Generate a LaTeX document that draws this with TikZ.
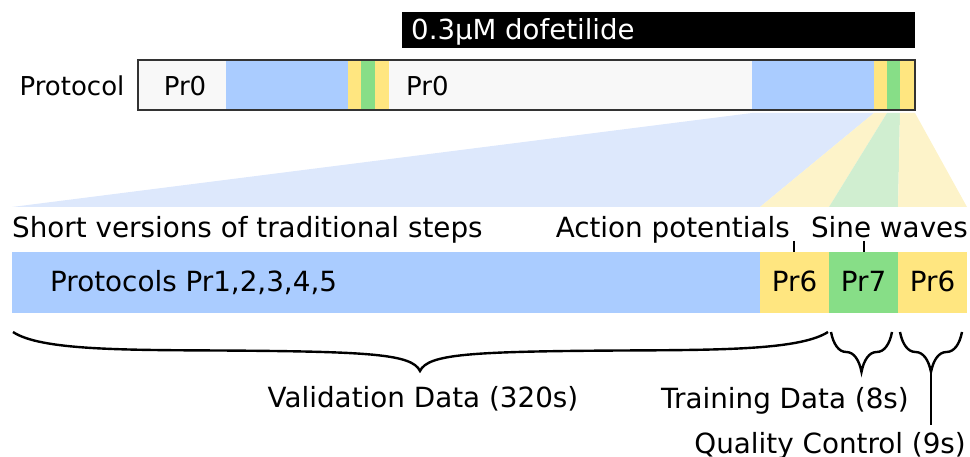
\documentclass[tikz,border=0pt]{standalone}
\usepackage{fontspec}
\setmainfont{DejaVu Sans}
\usetikzlibrary{decorations.pathreplacing}
\definecolor{pblue}{HTML}{AACCFF}
\definecolor{pyellow}{HTML}{FFE680}
\definecolor{pgreen}{HTML}{87DE87}
\definecolor{fblue}{HTML}{DDE8FC}
\definecolor{fyellow}{HTML}{FDF3C9}
\definecolor{fgreen}{HTML}{D0EED0}
\definecolor{pwhite}{HTML}{F8F8F8}
\definecolor{pborder}{HTML}{333333}
\tikzset{
  seg/.style={draw=none,inner sep=0,outer sep=0,anchor=north west},
  bigtxt/.style={inner sep=0,font=\fontsize{27.8}{32}\selectfont},
  toptxt/.style={inner sep=0,font=\fontsize{26}{30}\selectfont},
  brc/.style={line width=2.4pt,decorate,decoration={brace,mirror,amplitude=#1}},
  bline/.style={line width=2.4pt},
  tick/.style={line width=2pt},
}
\begin{document}
\begin{tikzpicture}[x=1pt,y=-1pt]
\useasboundingbox (0,0) rectangle (970,457);
% dofetilide box
\node[seg,fill=black,minimum width=513pt,minimum height=36pt] (dof) at (402,12) {};
\node[anchor=base west,inner sep=0,text=white,font=\fontsize{27.6}{30}\selectfont] (doft) at (411,40) {0.3μM dofetilide};
% top protocol bar
\node[toptxt,anchor=base] (prot) at (72,96) {Protocol};
\node[seg,fill=pwhite,minimum width=88pt,minimum height=50pt] (t1) at (138,60) {};
\node[seg,fill=pblue,minimum width=122pt,minimum height=50pt] (t2) at (226,60) {};
\node[seg,fill=pyellow,minimum width=13pt,minimum height=50pt] (t3) at (348,60) {};
\node[seg,fill=pgreen,minimum width=14pt,minimum height=50pt] (t4) at (361,60) {};
\node[seg,fill=pyellow,minimum width=14pt,minimum height=50pt] (t5) at (375,60) {};
\node[seg,fill=pwhite,minimum width=363pt,minimum height=50pt] (t6) at (389,60) {};
\node[seg,fill=pblue,minimum width=122pt,minimum height=50pt] (t7) at (752,60) {};
\node[seg,fill=pyellow,minimum width=13pt,minimum height=50pt] (t8) at (874,60) {};
\node[seg,fill=pgreen,minimum width=13pt,minimum height=50pt] (t9) at (887,60) {};
\node[seg,fill=pyellow,minimum width=15pt,minimum height=50pt] (t10) at (900,60) {};
\draw[pborder,line width=1.4pt] (t1.north west) rectangle (t10.south east);
\node[toptxt,anchor=base] (pr0a) at (185,96) {Pr0};
\node[toptxt,anchor=base west] (pr0b) at (406,96) {Pr0};
% fans
\fill[fblue] (12,207) -- (760,207) -- (874,113) -- (752,113) -- cycle;
\fill[fyellow] (760,207) -- (829,207) -- (887,113) -- (874,113) -- cycle;
\fill[fgreen] (829,207) -- (898,207) -- (900,113) -- (887,113) -- cycle;
\fill[fyellow] (898,207) -- (967,207) -- (915,113) -- (900,113) -- cycle;
% labels above bottom bar
\node[bigtxt,anchor=base west] (short) at (12,238) {Short versions of traditional steps};
\node[bigtxt,anchor=base east] (ap) at (790,238) {Action potentials};
\node[bigtxt,anchor=base east] (sw) at (968,238) {Sine waves};
% bottom bar
\node[seg,fill=pblue,minimum width=748pt,minimum height=61pt] (b1) at (12,252) {};
\node[seg,fill=pyellow,minimum width=69pt,minimum height=61pt] (b2) at (760,252) {};
\node[seg,fill=pgreen,minimum width=69pt,minimum height=61pt] (b3) at (829,252) {};
\node[seg,fill=pyellow,minimum width=69pt,minimum height=61pt] (b4) at (898,252) {};
\node[bigtxt,anchor=base west] (pr15) at (50,292) {Protocols Pr1,2,3,4,5};
\node[bigtxt,anchor=base] (pr6a) at (b2.center |- 0,292) {Pr6};
\node[bigtxt,anchor=base] (pr7) at (b3.center |- 0,292) {Pr7};
\node[bigtxt,anchor=base] (pr6b) at (b4.center |- 0,292) {Pr6};
% ticks
\coordinate (apt) at (794,241);
\coordinate (swt) at (864,241);
\draw[tick] (apt) -- (apt |- b2.north);
\draw[tick] (swt) -- (swt |- b3.north);
% braces
\coordinate (v1) at (13,332);
\coordinate (v2) at (828,332);
\coordinate (vtip) at (420,371);
\coordinate (tr1) at (831,332);
\coordinate (tr2) at (892,332);
\coordinate (q1) at (900,332);
\coordinate (q2) at (962,332);
\draw[bline] (v1) .. controls (40,350) and (120,350) .. (220,350.5)
  .. controls (370,351.5) and (412,354) .. (vtip)
  .. controls (428,354) and (470,351.5) .. (620,350.5)
  .. controls (720,350) and (800,350) .. (v2);
\draw[brc=40pt] (tr1) -- (tr2);
\draw[brc=40pt] (q1) -- (q2);
\coordinate (qtip) at (931,371);
\coordinate (qend) at (931,425);
\draw[bline] (qtip) -- (qend);
% bottom labels
\node[bigtxt,anchor=base] (val) at (423,407) {Validation Data (320s)};
\node[bigtxt,anchor=base] (train) at (785,408) {Training Data (8s)};
\node[bigtxt,anchor=base east] (qc) at (966,453) {Quality Control (9s)};
\end{tikzpicture}
\end{document}
